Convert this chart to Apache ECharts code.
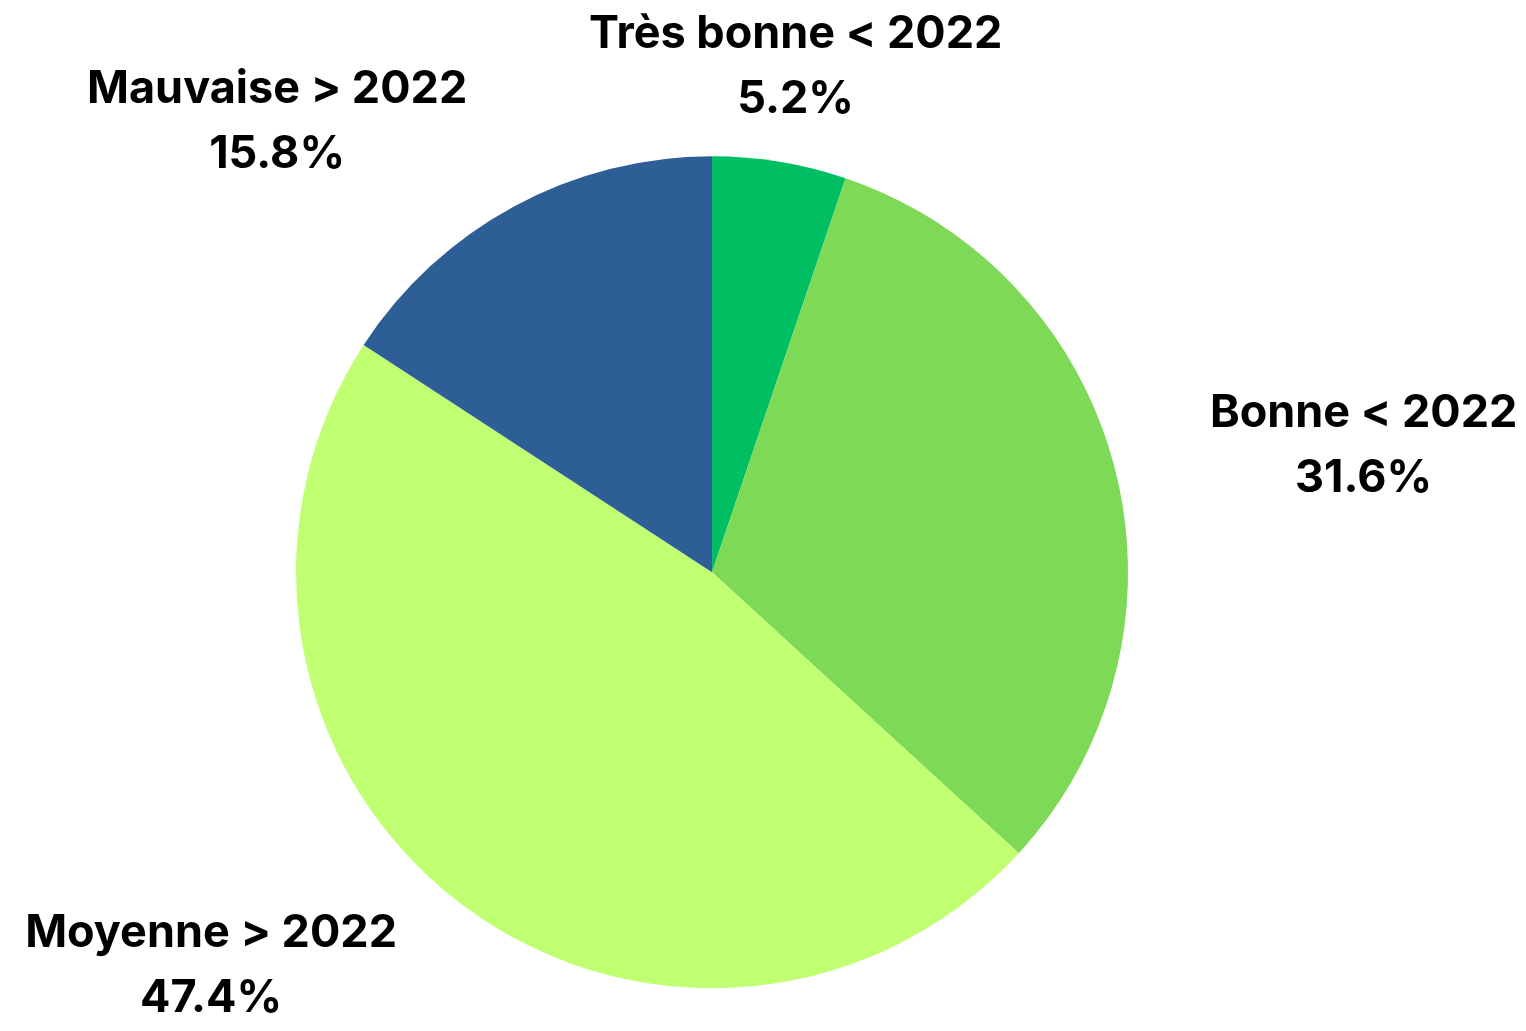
<!DOCTYPE html>
<html>
<head>
<meta charset="utf-8">
<script src="https://cdn.jsdelivr.net/npm/echarts@6/dist/echarts.min.js"></script>
<style>
  html, body { margin: 0; padding: 0; background: #fff; }
  #chart { width: 1526px; height: 1031px; }
</style>
</head>
<body>
<div id="chart"></div>
<script>
// catégories et parts (%)
const categories = ['Très bonne < 2022', 'Bonne < 2022', 'Moyenne > 2022', 'Mauvaise > 2022']
const shares = [5.2, 31.6, 47.4, 15.8]
const colors = ['#00BF63', '#7ED957', '#C1FF72', '#2E5E96']

const myChart = echarts.init(document.getElementById('chart'))

const centerPct = [46.66, 55.5]
const radius = 416
const gap = 98 // distance label / bord du camembert

// place chaque étiquette à l'extérieur, dans l'axe du milieu de sa part
function placeLabel(params) {
  const total = shares.reduce((a, b) => a + b, 0)
  let before = 0
  for (let i = 0; i < params.dataIndex; i++) before += shares[i]
  const mid = (before + shares[params.dataIndex] / 2) / total * Math.PI * 2
  const dx = Math.sin(mid)
  const dy = -Math.cos(mid)
  const cx = myChart.getWidth() * centerPct[0] / 100
  const cy = myChart.getHeight() * centerPct[1] / 100
  const w = params.labelRect.width
  const h = params.labelRect.height
  let x = cx + dx * (radius + gap)
  let y = cy + dy * (radius + gap) + 2
  // bloc accroché par son bord gauche / droit, lignes centrées
  if (Math.abs(dx) >= 0.3) x += (dx > 0 ? 1 : -1) * w / 2
  // rester dans la zone du graphique
  y = Math.max(h / 2, Math.min(myChart.getHeight() - h / 2, y))
  x = Math.max(w / 2, Math.min(myChart.getWidth() - w / 2, x))
  return { x: x, y: y, align: 'center', verticalAlign: 'middle' }
}

const option = {
  backgroundColor: '#ffffff',
  animation: false,
  series: [
    {
      type: 'pie',
      center: [centerPct[0] + '%', centerPct[1] + '%'],
      radius: radius,
      startAngle: 90,
      clockwise: true,
      data: categories.map((name, i) => ({
        name: name,
        value: shares[i],
        itemStyle: { color: colors[i] }
      })),
      itemStyle: { borderWidth: 0 },
      label: {
        show: true,
        position: 'outside',
        formatter: (p) => p.name + '\n' + p.value.toFixed(1) + '%',
        color: '#000000',
        fontFamily: 'Inter',
        fontWeight: 'bold',
        fontSize: 45,
        lineHeight: 65,
        align: 'center'
      },
      labelLine: { show: false },
      labelLayout: placeLabel,
      emphasis: { disabled: true }
    }
  ]
}

myChart.setOption(option)
window.addEventListener('resize', () => {
  myChart.resize()
})
</script>
</body>
</html>
